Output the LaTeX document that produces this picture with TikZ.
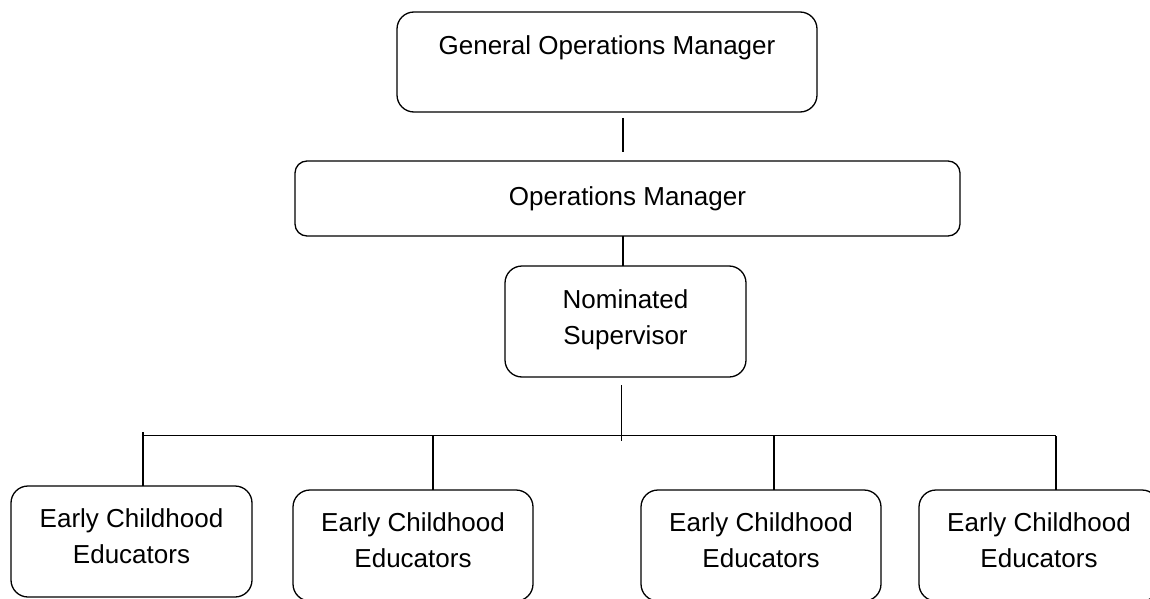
\documentclass[tikz,border=0pt]{standalone}
\usepackage{fontspec}
\setmainfont{Liberation Sans}
\usetikzlibrary{calc}
\tikzset{
  orgbox/.style={draw=black, line width=1.3pt, rounded corners=17pt, inner sep=0pt, outer sep=0pt,
    align=center, font=\fontsize{26}{36}\selectfont},
  link/.style={draw=black, line width=1.3pt}
}
\begin{document}
\begin{tikzpicture}[x=1pt,y=-1pt]
\useasboundingbox (0,0) rectangle (1150,599);
\clip (0,0) rectangle (1150,599);
\node[orgbox, minimum width=420pt, minimum height=100pt] (gom) at (607,62)
  {General Operations Manager\rule[-34pt]{0pt}{34pt}};
\node[orgbox, rounded corners=12pt, minimum width=665pt, minimum height=75pt] (om) at (627.5,198.5)
  {Operations Manager\rule[-2pt]{0pt}{2pt}};
\node[orgbox, minimum width=241pt, minimum height=111pt] (nom) at (625.5,321.5)
  {Nominated\\Supervisor\rule[-9pt]{0pt}{9pt}};
\node[orgbox, minimum width=241pt, minimum height=111pt] (ece1) at (131.5,541.5)
  {Early Childhood\\Educators\rule[-10pt]{0pt}{10pt}};
\node[orgbox, minimum width=240pt, minimum height=111pt] (ece2) at (413,545.5)
  {Early Childhood\\Educators\rule[-10pt]{0pt}{10pt}};
\node[orgbox, minimum width=240pt, minimum height=111pt] (ece3) at (761,545.5)
  {Early Childhood\\Educators\rule[-10pt]{0pt}{10pt}};
\node[orgbox, minimum width=240pt, minimum height=111pt] (ece4) at (1039,545.5)
  {Early Childhood\\Educators\rule[-10pt]{0pt}{10pt}};
% connectors
\draw[link] ($(gom.south)+(16,6)$) -- ($(om.north)+(-4.5,-9)$);
\draw[link] ($(om.south)+(-4.5,0)$) -- ($(nom.north)+(-2.5,0)$);
\coordinate (hl) at (143,435.5);
\coordinate (hr) at (1056,435.5);
\draw[link] ($(nom.south)+(-4,8)$) coordinate (nd) -- (nd |- 0,441);
\draw[link] (hl) -- (hr);
\draw[link] ($(ece1.north)+(11.5,0)$) coordinate (v1) -- ($(v1 |- hl)+(0,-4)$);
\draw[link] ($(ece2.north)+(20,0)$) coordinate (v2) -- (v2 |- hl);
\draw[link] ($(ece3.north)+(13,0)$) coordinate (v3) -- (v3 |- hl);
\draw[link] ($(ece4.north)+(17,0)$) coordinate (v4) -- (v4 |- hl);
\end{tikzpicture}
\end{document}
